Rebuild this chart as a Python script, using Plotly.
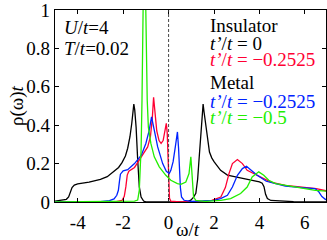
import plotly.graph_objects as go

# ---- data ----
black_w = [-5.0, -4.7, -4.5, -4.4, -4.32, -4.25, -4.15, -4.0, -3.5, -3.0, -2.7, -2.4, -2.2, -2.05, -1.9, -1.8, -1.7,
           -1.62, -1.56, -1.53, -1.49, -1.43, -1.36, -1.29, -1.21, -1.1, -1.0, 0.8, 0.98, 1.1, 1.2, 1.28, 1.34, 1.42,
           1.48, 1.52, 1.56, 1.64, 1.72, 1.8, 1.9, 2.0, 2.29, 2.59, 3.0, 3.5, 4.0, 4.12, 4.2, 4.27, 4.35, 4.5, 5.0,
           5.5, 7.0]
black_r = [0.004, 0.008, 0.014, 0.026, 0.05, 0.075, 0.088, 0.094, 0.104, 0.118, 0.132, 0.16, 0.18, 0.205, 0.24, 0.28,
           0.34, 0.41, 0.48, 0.51, 0.48, 0.39, 0.22, 0.08, 0.026, 0.005, 0.001, 0.001, 0.01, 0.025, 0.045, 0.12, 0.22,
           0.36, 0.47, 0.51, 0.47, 0.39, 0.31, 0.26, 0.23, 0.21, 0.165, 0.14, 0.13, 0.118, 0.105, 0.098, 0.08, 0.04,
           0.018, 0.008, 0.004, 0.002, 0.0]

red_w = [-5.0, -2.3, -2.05, -1.95, -1.88, -1.82, -1.75, -1.5, -1.2, -0.92, -0.8, -0.72, -0.66, -0.6, -0.52, -0.42,
         -0.33, -0.24, -0.16, -0.1, -0.06, -0.03, 0.0, 0.04, 0.1, 0.5, 1.5, 1.9, 2.3, 2.5, 2.66, 2.81, 3.03, 3.25,
         3.46, 3.75, 4.2, 4.5, 5.14, 6.0, 6.5, 7.0]
red_r = [0.0, 0.002, 0.008, 0.03, 0.08, 0.14, 0.16, 0.18, 0.235, 0.287, 0.34, 0.43, 0.545, 0.46, 0.37, 0.32, 0.305,
         0.32, 0.37, 0.41, 0.36, 0.22, 0.1, 0.02, 0.004, 0.001, 0.003, 0.009, 0.026, 0.075, 0.148, 0.2, 0.221, 0.2,
         0.165, 0.148, 0.122, 0.104, 0.087, 0.078, 0.07, 0.057]

blue_w = [-5.0, -3.0, -2.6, -2.4, -2.28, -2.21, -2.16, -2.12, -2.0, -1.8, -1.5, -1.2, -1.0, -0.85, -0.75, -0.68,
          -0.63, -0.48, -0.26, -0.1, 0.03, 0.1, 0.2, 0.3, 0.39, 0.44, 0.48, 0.52, 0.57, 0.68, 1.0, 2.0, 2.29, 2.59,
          2.81, 3.03, 3.25, 3.43, 3.61, 3.9, 4.3, 5.14, 6.0, 6.45, 6.6, 6.75, 6.9, 7.0]
blue_r = [0.0, 0.002, 0.007, 0.016, 0.035, 0.061, 0.11, 0.145, 0.162, 0.168, 0.2, 0.244, 0.305, 0.374, 0.443, 0.41,
          0.374, 0.287, 0.2, 0.16, 0.148, 0.165, 0.21, 0.29, 0.365, 0.28, 0.17, 0.075, 0.026, 0.009, 0.003, 0.008,
          0.018, 0.035, 0.078, 0.139, 0.174, 0.186, 0.168, 0.139, 0.108, 0.083, 0.074, 0.07, 0.055, 0.028, 0.014, 0.01]

green_w = [-5.0, -2.0, -1.5, -1.36, -1.29, -1.24, -1.21, -1.17, -1.14, -1.1, -1.07, -1.04, -1.0, -0.97, -0.94, -0.89,
           -0.78, -0.63, -0.41, -0.12, 0.1, 0.39, 0.54, 0.76, 0.9, 0.98, 1.02, 1.05, 1.1, 1.2, 1.6, 2.3, 2.73, 3.17,
           3.46, 3.68, 3.97, 4.19, 4.41, 4.71, 5.58, 6.46, 7.0]
green_r = [0.0, 0.002, 0.005, 0.01, 0.06, 0.2, 0.27, 0.53, 1.0, 1.4, 1.5, 1.3, 0.98, 0.7, 0.53, 0.39, 0.305, 0.235,
           0.183, 0.139, 0.113, 0.096, 0.092, 0.104, 0.148, 0.235, 0.165, 0.078, 0.026, 0.009, 0.003, 0.008, 0.018,
           0.044, 0.078, 0.13, 0.157, 0.139, 0.113, 0.096, 0.078, 0.061, 0.056]

x_ticks = [-4, -2, 0, 2, 4, 6]
x_tick_labels = ["-4", "-2", "0", "2", "4", "6"]
y_ticks = [0, 0.2, 0.4, 0.6, 0.8, 1.0]
y_tick_labels = ["0", "0.2", "0.4", "0.6", "0.8", "1"]

FONT = "Liberation Serif"
FS = 19
BLACK = "#000000"
RED = "#ff0033"
BLUE = "#0022ff"
GREEN = "#22ee00"

fig = go.Figure()
for w, r, c in [(black_w, black_r, BLACK), (red_w, red_r, RED), (blue_w, blue_r, BLUE), (green_w, green_r, GREEN)]:
    fig.add_trace(go.Scatter(x=w, y=r, mode="lines", line=dict(color=c, width=1.3), showlegend=False,
                             hoverinfo="skip"))

fig.add_shape(type="line", x0=0, x1=0, y0=0, y1=1, xref="x", yref="y",
              line=dict(color="#333333", width=0.9, dash="3px,2px"))

axis_common = dict(showgrid=False, zeroline=False, showline=True, linecolor="black", linewidth=1.2,
                   mirror="ticks", ticks="inside", ticklen=4, tickcolor="black", ticklabeloverflow="allow",
                   tickfont=dict(family=FONT, size=FS, color="black"))
fig.update_xaxes(range=[-5, 6.93], tickvals=x_ticks, ticktext=x_tick_labels, ticklabelstandoff=3, **axis_common)
fig.update_yaxes(range=[0, 1], tickvals=y_ticks, ticktext=y_tick_labels, **axis_common)

ann = []
def add_text(x, y, text, color="black", xref="x", yref="y", angle=0, xanchor="left"):
    ann.append(dict(x=x, y=y, xref=xref, yref=yref, text=text, showarrow=False, xanchor=xanchor,
                    yanchor="middle", textangle=angle, font=dict(family=FONT, size=FS, color=color)))

add_text(-4.7, 0.91, "<i>U</i>/<i>t</i>=4")
add_text(-4.7, 0.797, "<i>T</i>/<i>t</i>=0.02")
add_text(1.74, 0.92, "Insulator")
add_text(1.74, 0.828, "<i>t’</i>/<i>t</i> = 0")
add_text(1.74, 0.74, "<i>t’</i>/<i>t</i> = −0.2525", RED)
add_text(1.74, 0.625, "Metal")
add_text(1.74, 0.525, "<i>t’</i>/<i>t</i> = −0.2525", BLUE)
add_text(1.74, 0.44, "<i>t’</i>/<i>t</i> = −0.5", GREEN)
add_text(-0.14, 0.5, "ρ(ω)<i>t</i>", xref="paper", yref="paper", angle=-90, xanchor="center")
add_text(0.49, -0.145, "ω/<i>t</i>", xref="paper", yref="paper", xanchor="center")

fig.update_layout(width=327, height=240, margin=dict(l=55, r=1, t=10, b=38),
                  paper_bgcolor="white", plot_bgcolor="white", annotations=ann,
                  font=dict(family=FONT, size=FS, color="black"))

fig.write_html("out.html", config={"displayModeBar": False},
               post_script="document.body.style.margin='0';document.body.style.padding='0';")
